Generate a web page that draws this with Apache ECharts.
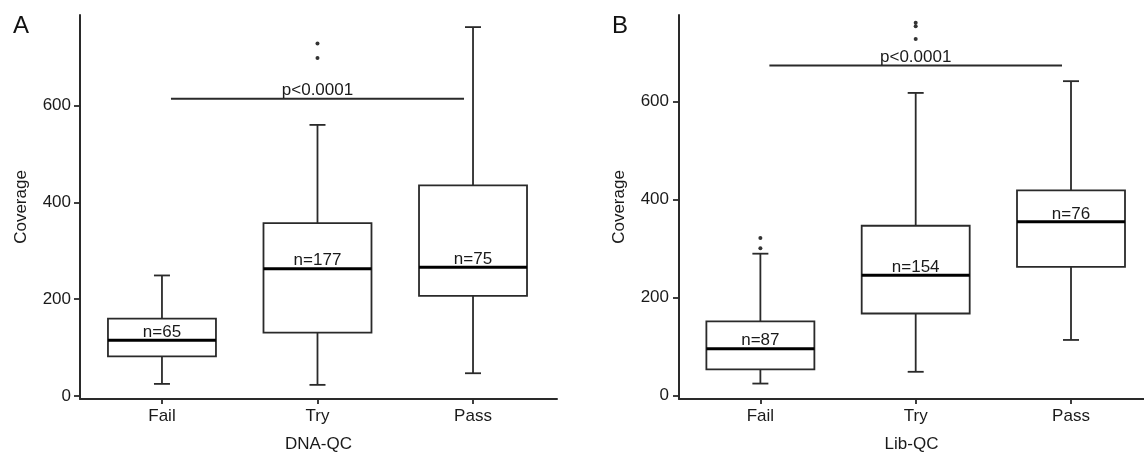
<!DOCTYPE html>
<html>
<head>
<meta charset="utf-8">
<title>Coverage by QC class</title>
<script src="https://cdn.jsdelivr.net/npm/echarts@6/dist/echarts.min.js"></script>
<style>
  html, body { margin: 0; padding: 0; background: #fff; }
  #chart { width: 1144px; height: 458px; }
</style>
</head>
<body>
<div id="chart"></div>
<script>
// ======================
// DATA
// ======================
const categories = ["Fail", "Try", "Pass"];
const yTicks = [0, 200, 400, 600];
const pText = "p<0.0001";

// panel A – DNA-QC, each box: [min, Q1, median, Q3, max]
const dnaBoxes = [
    [25, 82, 115, 160, 249],
    [23, 131, 263, 357, 560],
    [47, 207, 266, 435, 762]
];
const dnaCounts = [65, 177, 75];
const dnaOutliers = [[1, 698], [1, 728]];
const dnaBar = [0, 2, 614];

// panel B – Lib-QC
const libBoxes = [
    [24, 53, 95, 151, 289],
    [48, 167, 245, 346, 617],
    [113, 262, 354, 418, 641]
];
const libCounts = [87, 154, 76];
const libOutliers = [[0, 300], [0, 321], [1, 727], [1, 753], [1, 760]];
const libBar = [0, 2, 673];

// ======================
// STYLE
// ======================
const FONT = "'Liberation Sans', Arial, sans-serif";
const INK = "#1a1a1a";
const LINE = "#2a2a2a";

function boxRenderer(params, api) {
    const i = api.value(0);
    const lo = api.coord([i, api.value(1)]);
    const q1 = api.coord([i, api.value(2)]);
    const med = api.coord([i, api.value(3)]);
    const q3 = api.coord([i, api.value(4)]);
    const hi = api.coord([i, api.value(5)]);
    const cx = lo[0];
    const hw = 54, cw = 8;
    const st = { stroke: LINE, lineWidth: 1.8, fill: null };
    return {
        type: "group",
        children: [
            { type: "line", shape: { x1: cx, y1: hi[1], x2: cx, y2: q3[1] }, style: st },
            { type: "line", shape: { x1: cx, y1: q1[1], x2: cx, y2: lo[1] }, style: st },
            { type: "line", shape: { x1: cx - cw, y1: hi[1], x2: cx + cw, y2: hi[1] }, style: st },
            { type: "line", shape: { x1: cx - cw, y1: lo[1], x2: cx + cw, y2: lo[1] }, style: st },
            { type: "rect", shape: { x: cx - hw, y: q3[1], width: hw * 2, height: q1[1] - q3[1] },
              style: { stroke: LINE, lineWidth: 1.8, fill: "#fff" } },
            { type: "line", shape: { x1: cx - hw, y1: med[1], x2: cx + hw, y2: med[1] },
              style: { stroke: "#000", lineWidth: 3 } },
            { type: "text", x: cx, y: med[1] + 0.5,
              style: { text: "n=" + api.value(6), fill: INK, font: "17px " + FONT,
                       align: "center", verticalAlign: "bottom" } }
        ]
    };
}

// significance bar between first and last group, label centred on it
function barRenderer(params, api) {
    const a = api.coord([api.value(0), api.value(2)]);
    const b = api.coord([api.value(1), api.value(2)]);
    const x1 = a[0] + 9, x2 = b[0] - 9;
    return {
        type: "group",
        children: [
            { type: "line", shape: { x1: x1, y1: a[1], x2: x2, y2: a[1] },
              style: { stroke: LINE, lineWidth: 1.8 } },
            { type: "text", x: (x1 + x2) / 2, y: a[1] + 0.5,
              style: { text: pText, fill: INK, font: "17px " + FONT,
                       align: "center", verticalAlign: "bottom" } }
        ]
    };
}

function makeX(idx, min, max, title) {
    return {
        gridIndex: idx, type: "value", min: min, max: max,
        name: title, nameLocation: "middle", nameGap: 37,
        nameTextStyle: { color: INK, fontSize: 17, fontFamily: FONT },
        axisLine: { onZero: false, lineStyle: { color: LINE, width: 2 } },
        axisTick: { customValues: [0, 1, 2], length: 5, lineStyle: { color: LINE, width: 1.8 } },
        axisLabel: { customValues: [0, 1, 2], formatter: v => categories[v], margin: 9,
                     color: INK, fontSize: 17, fontFamily: FONT },
        splitLine: { show: false }
    };
}

function makeY(idx, min, max, gap, margin) {
    return {
        gridIndex: idx, type: "value", min: min, max: max,
        name: "Coverage", nameLocation: "middle", nameGap: gap,
        nameTextStyle: { color: INK, fontSize: 17, fontFamily: FONT },
        axisLine: { onZero: false, lineStyle: { color: LINE, width: 2 } },
        axisTick: { customValues: yTicks, length: 6, lineStyle: { color: LINE, width: 1.8 } },
        axisLabel: { customValues: yTicks, margin: margin, color: INK, fontSize: 17, fontFamily: FONT },
        splitLine: { show: false }
    };
}

function panelSeries(idx, boxes, counts, outliers, bar) {
    return [
        {
            type: "custom", xAxisIndex: idx, yAxisIndex: idx,
            renderItem: boxRenderer,
            data: boxes.map((b, i) => [i].concat(b, [counts[i]]))
        },
        {
            type: "scatter", xAxisIndex: idx, yAxisIndex: idx,
            symbolSize: 4, itemStyle: { color: "#000" },
            data: outliers
        },
        {
            type: "custom", xAxisIndex: idx, yAxisIndex: idx,
            renderItem: barRenderer,
            data: [bar]
        }
    ];
}

const chart = echarts.init(document.getElementById("chart"), null, { renderer: "canvas" });
chart.setOption({
    backgroundColor: "#fff",
    animation: false,
    grid: [
        { left: 80, top: 15, width: 477, height: 386 },
        { left: 679, top: 15, width: 465, height: 386 }
    ],
    xAxis: [
        makeX(0, -0.527, 2.54, "DNA-QC"),
        makeX(1, -0.524, 2.47, "Lib-QC")
    ],
    yAxis: [
        makeY(0, -6.2, 787, 50, 9),
        makeY(1, -7.5, 776, 51, 10)
    ],
    graphic: [
        { type: "text", left: 13, top: 14, style: { text: "A", font: "24px " + FONT, fill: "#111" } },
        { type: "text", left: 612, top: 14, style: { text: "B", font: "24px " + FONT, fill: "#111" } }
    ],
    series: [].concat(
        panelSeries(0, dnaBoxes, dnaCounts, dnaOutliers, dnaBar),
        panelSeries(1, libBoxes, libCounts, libOutliers, libBar)
    )
});

window.addEventListener("resize", () => chart.resize());
</script>
</body>
</html>
